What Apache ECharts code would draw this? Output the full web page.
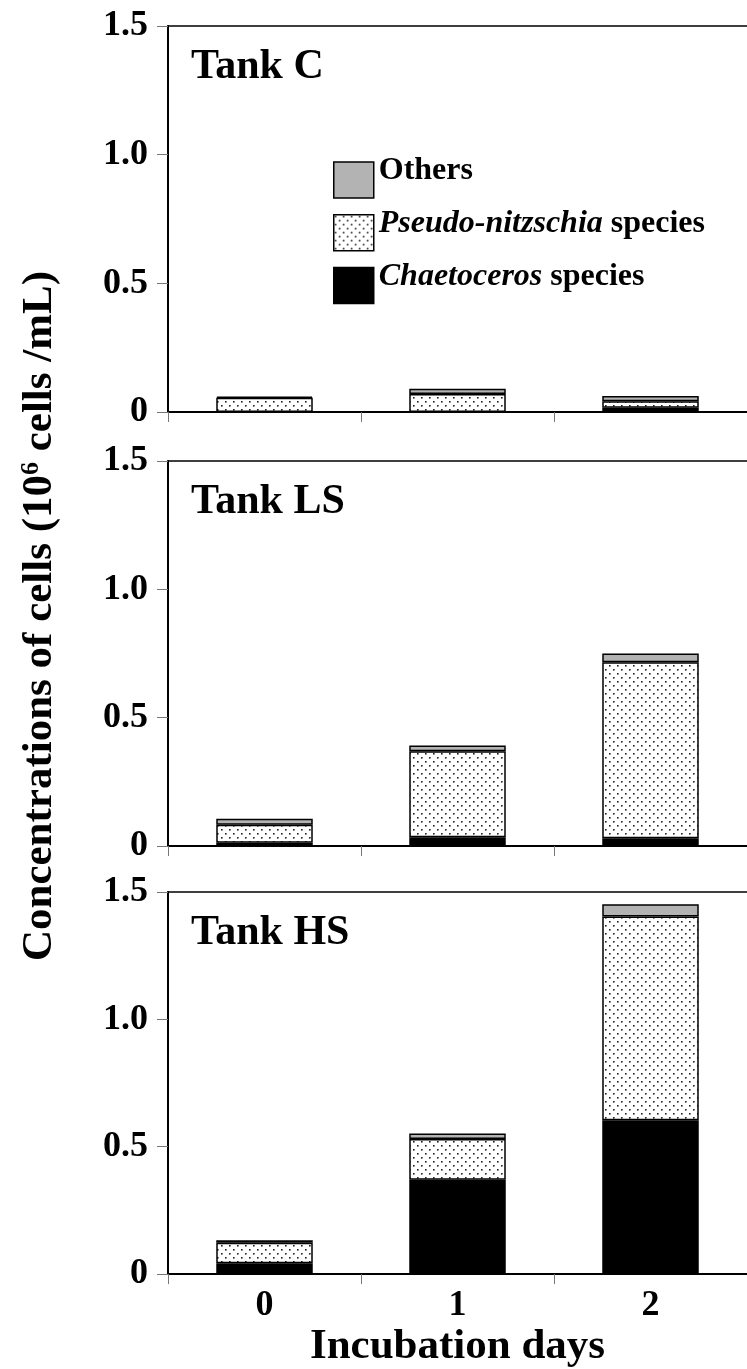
<!DOCTYPE html>
<html>
<head>
<meta charset="utf-8">
<script src="https://cdn.jsdelivr.net/npm/echarts@6/dist/echarts.min.js"></script>
<style>html,body{margin:0;padding:0;background:#fff;}#chart{width:747px;height:1369px;}</style>
</head>
<body>
<div id="chart"></div>
<script>
// ---- data ----
const days = ['0', '1', '2'];
const tanks = ['Tank C', 'Tank LS', 'Tank HS'];
const yTicks = [0, 0.5, 1.0, 1.5];
const seriesNames = ['Chaetoceros species', 'Pseudo-nitzschia species', 'Others'];
// Tank C
const chaetoC = [0.0, 0.0, 0.017];
const pseudoC = [0.055, 0.07, 0.025];
const othersC = [0.005, 0.02, 0.02];
// Tank LS
const chaetoLS = [0.013, 0.034, 0.03];
const pseudoLS = [0.07, 0.335, 0.686];
const othersLS = [0.023, 0.023, 0.034];
// Tank HS
const chaetoHS = [0.043, 0.37, 0.604];
const pseudoHS = [0.08, 0.16, 0.80];
const othersHS = [0.01, 0.022, 0.048];

const tankData = [
  [chaetoC, pseudoC, othersC],
  [chaetoLS, pseudoLS, othersLS],
  [chaetoHS, pseudoHS, othersHS]
];

// ---- dotted pattern ----
function makeDots() {
  const c = document.createElement('canvas');
  c.width = 8; c.height = 8;
  const g = c.getContext('2d');
  g.fillStyle = '#ffffff';
  g.fillRect(0, 0, 8, 8);
  g.fillStyle = '#222';
  g.fillRect(1, 1, 1.6, 1.6);
  g.fillRect(5, 5, 1.6, 1.6);
  return c;
}
const dotPattern = { image: makeDots(), repeat: 'repeat' };
const fills = ['#000000', dotPattern, '#b3b3b3'];

const FONT = '"Liberation Serif", "Times New Roman", serif';
const grids = [
  { left: 168, top: 26, width: 584, height: 386 },
  { left: 168, top: 461, width: 584, height: 385 },
  { left: 168, top: 892, width: 584, height: 385 }
];

const xAxes = [], yAxes = [], series = [], titles = [];
grids.forEach((g, i) => {
  const last = i === grids.length - 1;
  xAxes.push({
    type: 'category', gridIndex: i, data: days, position: 'bottom',
    axisLine: { lineStyle: { color: '#000', width: 2 } },
    axisTick: { show: true, length: 10, lineStyle: { color: '#777', width: 1 } },
    axisLabel: { show: last, fontFamily: FONT, fontWeight: 'bold', fontSize: 36, color: '#000', margin: 14 },
    name: last ? 'Incubation days' : '',
    nameLocation: 'middle', nameGap: 48,
    nameTextStyle: { fontFamily: FONT, fontWeight: 'bold', fontSize: 43, color: '#000' }
  });
  xAxes.push({
    type: 'category', gridIndex: i, data: days, position: 'top',
    axisLine: { show: true, lineStyle: { color: '#000', width: 1.5 } },
    axisTick: { show: false }, axisLabel: { show: false }
  });
  yAxes.push({
    type: 'value', gridIndex: i, min: 0, max: 1.5, interval: 0.5,
    axisLine: { show: true, lineStyle: { color: '#000', width: 2 } },
    axisTick: { show: true, length: 11, lineStyle: { color: '#777', width: 1 } },
    splitLine: { show: false },
    axisLabel: {
      fontFamily: FONT, fontWeight: 'bold', fontSize: 36, color: '#000', margin: 20,
      formatter: v => (v === 0 ? '0' : v.toFixed(1))
    }
  });
  tankData[i].forEach((vals, k) => {
    series.push({
      type: 'bar', name: seriesNames[k], xAxisIndex: i * 2, yAxisIndex: i,
      stack: 'tank' + i, data: vals, barWidth: '50%',
      itemStyle: { color: fills[k], borderColor: '#000', borderWidth: 1.5 },
      emphasis: { disabled: true }
    });
  });
  titles.push({
    text: tanks[i], left: 186, top: g.top + 15,
    textStyle: { fontFamily: FONT, fontWeight: 'bold', fontSize: 42, color: '#000' }
  });
});

const option = {
  animation: false,
  backgroundColor: '#fff',
  title: titles,
  grid: grids,
  xAxis: xAxes,
  yAxis: yAxes,
  legend: {
    left: 328, top: 150, orient: 'vertical',
    data: ['Others', 'Pseudo-nitzschia species', 'Chaetoceros species'],
    icon: 'rect', itemWidth: 40, itemHeight: 36, itemGap: 9,
    itemStyle: { borderColor: '#000', borderWidth: 1.5 },
    selectedMode: false,
    formatter: function (name) {
      if (name === 'Others') return '{b|Others}';
      if (name === 'Pseudo-nitzschia species') return '{i|Pseudo-nitzschia }{b|species}';
      return '{i|Chaetoceros }{b|species}';
    },
    textStyle: {
      padding: [0, 0, 18, 0],
      rich: {
        b: { fontFamily: FONT, fontWeight: 'bold', fontSize: 32, color: '#000' },
        i: { fontFamily: FONT, fontWeight: 'bold', fontStyle: 'italic', fontSize: 32, color: '#000' }
      }
    }
  },
  graphic: [{
    type: 'text', x: 40, y: 616, rotation: Math.PI / 2,
    style: {
      text: '{a|Concentrations of cells (10}{s|6}{a| cells /mL)}',
      align: 'center', verticalAlign: 'middle',
      rich: {
        a: { fontFamily: FONT, fontWeight: 'bold', fontSize: 43, fill: '#000' },
        s: { fontFamily: FONT, fontWeight: 'bold', fontSize: 26, fill: '#000', verticalAlign: 'top', padding: [0, 0, 16, 0] }
      }
    }
  }],
  series: series
};

const chart = echarts.init(document.getElementById('chart'), null, { renderer: 'canvas' });
chart.setOption(option);
</script>
</body>
</html>
